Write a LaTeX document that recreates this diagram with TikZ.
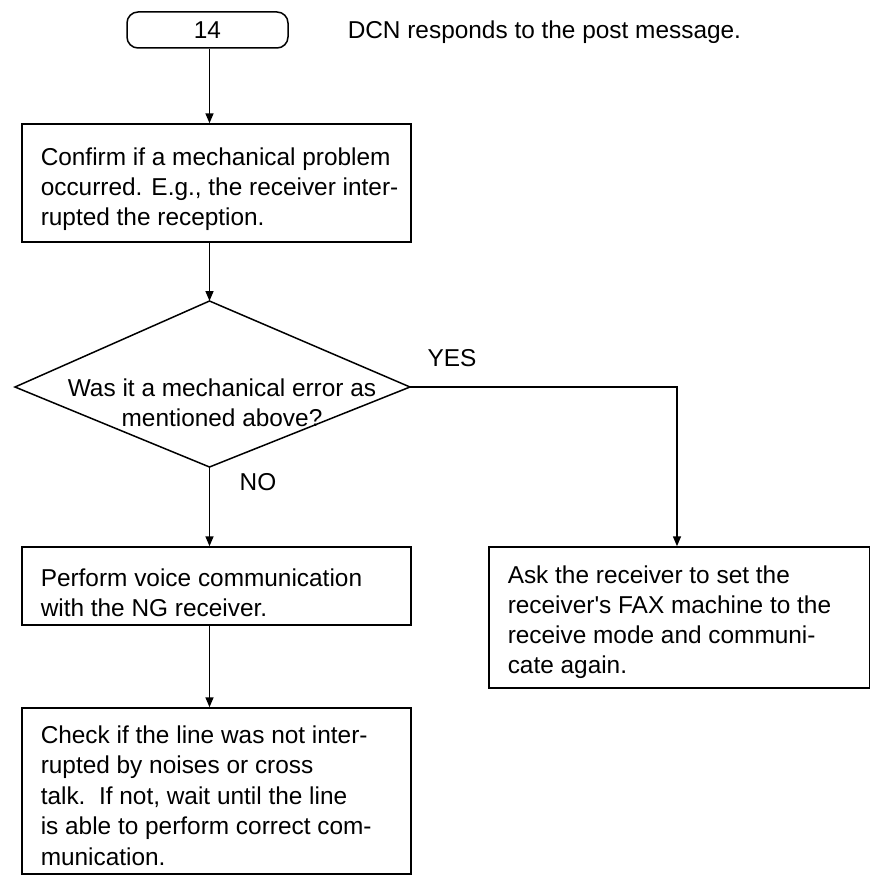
\documentclass[tikz,border=0pt]{standalone}
\usepackage{fontspec}
\setmainfont{Liberation Sans}
\usetikzlibrary{arrows.meta}
\begin{document}
\begin{tikzpicture}[x=1pt,y=-1pt,
  line width=1.5pt,
  box/.style={draw,rectangle,inner sep=0pt},
  arr/.style={-{Triangle[length=10pt,width=8pt]}},
  lbl/.style={font=\fontsize{24.4}{30}\selectfont,inner sep=0pt},
  para/.style={lbl,anchor=north west,align=left}]
\useasboundingbox (0,0) rectangle (870,875);
\coordinate (colx) at (209.5,0);
% start
\node[draw,rounded corners=11pt,minimum width=161pt,minimum height=36pt,lbl] (start) at (207.5,30) {14};
\node[lbl,anchor=base west] (note) at (347,38) {DCN responds to the post message.};
% box 1
\node[box,minimum width=389pt,minimum height=118pt] (b1) at (216.5,183) {};
\node[para] (t1) at (40,147) {Confirm if a mechanical problem\\occurred. E.g., the receiver inter-\\rupted the reception.};
% decision
\coordinate (dt) at (209.5,301);
\coordinate (dr) at (410,387);
\coordinate (db) at (209.5,467);
\coordinate (dl) at (15,387);
\draw (dt) -- (dr) -- (db) -- (dl) -- cycle;
\node[lbl,anchor=north,align=center] (q) at (222,378) {Was it a mechanical error as\\mentioned above?};
% box 2
\node[box,minimum width=389pt,minimum height=78pt] (b2) at (216.5,586) {};
\node[para] (t2) at (40,568) {Perform voice communication\\with the NG receiver.};
% box 3
\node[box,minimum width=380.25pt,minimum height=141pt] (b3) at (679.125,617.5) {};
\node[para] (t3) at (507,565) {Ask the receiver to set the\\receiver\textquotesingle s FAX machine to the\\receive mode and communi-\\cate again.};
% box 4
\node[box,minimum width=389pt,minimum height=166pt] (b4) at (216.5,791) {};
\node[para,font=\fontsize{24.4}{30.5}\selectfont] (t4) at (40,725) {Check if the line was not inter-\\rupted by noises or cross\\talk.\ \ If not, wait until the line\\is able to perform correct com-\\munication.};
% connectors
\draw[arr] (start.south -| colx) -- (b1.north -| colx);
\draw[arr] (b1.south -| colx) -- (dt);
\draw[arr] (db) -- (b2.north -| colx);
\draw[arr] (dr) -| (b3.north -| 677,0);
\draw[arr] (b2.south -| colx) -- (b4.north -| colx);
\node[lbl] (yes) at (452,358) {YES};
\node[lbl] (no) at (258,482) {NO};
\end{tikzpicture}
\end{document}
